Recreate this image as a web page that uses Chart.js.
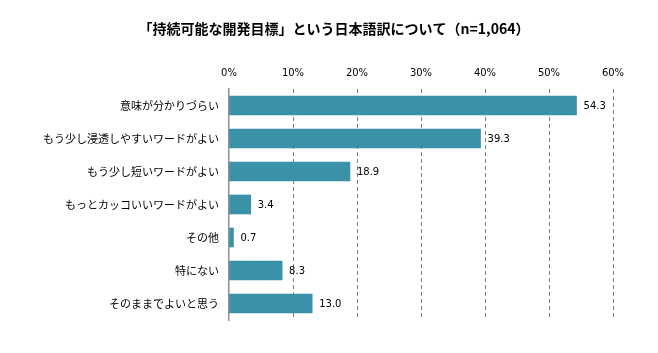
<!DOCTYPE html>
<html lang="ja">
<head>
<meta charset="utf-8">
<script src="https://cdn.jsdelivr.net/npm/chart.js@4/dist/chart.umd.min.js"></script>
<style>
  html, body { margin: 0; padding: 0; background: #fff; }
  #wrap { width: 658px; height: 353px; }
</style>
</head>
<body>
<div id="wrap"><canvas id="sdgChart"></canvas></div>
<script>
const categories = [
  '意味が分かりづらい',
  'もう少し浸透しやすいワードがよい',
  'もう少し短いワードがよい',
  'もっとカッコいいワードがよい',
  'その他',
  '特にない',
  'そのままでよいと思う',
];
const shares = [54.3, 39.3, 18.9, 3.4, 0.7, 8.3, 13.0];
const tickValues = [0, 10, 20, 30, 40, 50, 60];
const titleText = '「持続可能な開発目標」という日本語訳について（n=1,064）';

const fontFamily = '"Noto Sans CJK JP", "Noto Sans", sans-serif';
const numberFont = '"DejaVu Sans", Verdana, sans-serif';

// title centred on the whole canvas, not on the padded box
const canvasTitle = {
  id: 'canvasTitle',
  afterDraw(chart) {
    const { ctx } = chart;
    ctx.save();
    ctx.font = `bold 14px ${fontFamily}`;
    ctx.fillStyle = '#000';
    ctx.textAlign = 'center';
    ctx.textBaseline = 'middle';
    ctx.fillText(titleText, chart.width / 2 + 5, 29);
    ctx.restore();
  },
};

// value labels to the right of each bar
const valueLabels = {
  id: 'valueLabels',
  afterDatasetsDraw(chart) {
    const { ctx } = chart;
    const meta = chart.getDatasetMeta(0);
    ctx.save();
    ctx.font = `10px ${numberFont}`;
    ctx.fillStyle = '#000';
    ctx.textAlign = 'left';
    ctx.textBaseline = 'middle';
    meta.data.forEach((bar, i) => {
      ctx.fillText(shares[i].toFixed(1), bar.x + 7, bar.y + 1);
    });
    ctx.restore();
  },
};

const chartContext = document.getElementById('sdgChart').getContext('2d');
const chart = new Chart(chartContext, {
  type: 'bar',
  data: {
    labels: categories,
    datasets: [
      {
        data: shares,
        backgroundColor: '#3a91a8',
        borderWidth: 0,
        barThickness: 19,
      },
    ],
  },
  options: {
    indexAxis: 'y',
    responsive: true,
    maintainAspectRatio: false,
    animation: false,
    layout: {
      padding: { left: 0, right: 45, top: 46, bottom: 33 },
    },
    scales: {
      x: {
        position: 'top',
        min: 0,
        max: 60,
        afterFit: scale => { scale.height = 43; },
        afterBuildTicks: scale => {
          scale.ticks = tickValues.map(value => ({ value }));
        },
        ticks: {
          color: '#000',
          font: { family: numberFont, size: 10 },
          padding: 10,
          callback: value => `${value}%`,
        },
        grid: {
          drawTicks: false,
          color: context => (context.index === 0 ? 'rgba(0,0,0,0)' : '#7f7f7f'),
          lineWidth: 1,
        },
        border: { display: false, dash: [4, 3] },
      },
      y: {
        afterFit: scale => { scale.width = 229; },
        ticks: {
          color: '#000',
          font: { family: fontFamily, size: 11 },
          padding: 10,
        },
        grid: { display: false, drawTicks: false },
        border: { display: true, color: '#8f8f8f', width: 1.5 },
      },
    },
    plugins: {
      legend: { display: false },
      tooltip: { enabled: false },
      title: { display: false },
    },
  },
  plugins: [valueLabels, canvasTitle],
});
</script>
</body>
</html>
